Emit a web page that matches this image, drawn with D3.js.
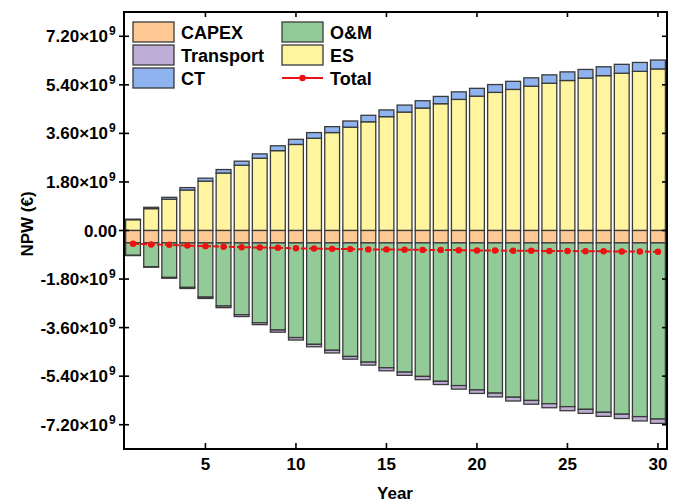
<!DOCTYPE html>
<html><head><meta charset="utf-8">
<script src="https://cdn.jsdelivr.net/npm/d3@7"></script>
<style>body{margin:0;background:#fff}svg{display:block}text{font-family:"Liberation Sans",Arial,sans-serif;font-weight:bold;fill:#000}</style>
</head><body><svg id="c" width="676" height="504"></svg>
<script>
const years = d3.range(1, 31);
const ES = [0.40,0.81,1.16,1.50,1.83,2.13,2.42,2.68,2.96,3.19,3.42,3.63,3.83,4.03,4.22,4.39,4.54,4.70,4.86,4.98,5.12,5.23,5.35,5.46,5.56,5.65,5.74,5.83,5.90,5.99];
const CT = [0.02,0.05,0.07,0.09,0.11,0.13,0.15,0.16,0.18,0.19,0.21,0.22,0.23,0.24,0.25,0.26,0.27,0.27,0.28,0.29,0.29,0.30,0.31,0.31,0.32,0.32,0.33,0.33,0.33,0.33];
const CAPEX = [-0.46,-0.46,-0.46,-0.46,-0.46,-0.46,-0.46,-0.46,-0.46,-0.46,-0.46,-0.46,-0.46,-0.46,-0.46,-0.46,-0.46,-0.46,-0.46,-0.46,-0.46,-0.46,-0.46,-0.46,-0.46,-0.46,-0.46,-0.46,-0.46,-0.46];
const OM = [-0.46,-0.88,-1.28,-1.65,-2.01,-2.34,-2.66,-2.96,-3.23,-3.51,-3.76,-3.98,-4.21,-4.42,-4.63,-4.79,-4.95,-5.13,-5.29,-5.45,-5.57,-5.72,-5.84,-5.96,-6.07,-6.17,-6.28,-6.35,-6.44,-6.53];
const Transport = [-0.01,-0.02,-0.03,-0.04,-0.05,-0.06,-0.07,-0.07,-0.08,-0.09,-0.09,-0.10,-0.10,-0.11,-0.11,-0.12,-0.12,-0.12,-0.13,-0.13,-0.14,-0.14,-0.14,-0.15,-0.15,-0.15,-0.15,-0.16,-0.16,-0.16];
const Total = [-0.49,-0.52,-0.53,-0.56,-0.58,-0.60,-0.62,-0.63,-0.64,-0.66,-0.67,-0.68,-0.69,-0.70,-0.70,-0.71,-0.72,-0.72,-0.73,-0.74,-0.74,-0.75,-0.75,-0.76,-0.76,-0.77,-0.77,-0.78,-0.78,-0.79];
const UNIT = 1e9;
const yTicks = [-7.2,-5.4,-3.6,-1.8,0,1.8,3.6,5.4,7.2];
const xTicks = [5,10,15,20,25,30];
const seriesKeys = ["ES","CT","CAPEX","O&M","Transport"];
const colors = {"CAPEX":"#FFC996","Transport":"#BEADD4","CT":"#8EB3EE","O&M":"#93CB98","ES":"#FFF59E"};

const rows = years.map((yr,i)=>({year:yr,"ES":ES[i],"CT":CT[i],"CAPEX":CAPEX[i],"O&M":OM[i],"Transport":Transport[i]}));

const svg = d3.select("#c");
const L=124,R=667,T=12,B=449;
const x = d3.scaleLinear().domain([0.5,30.5]).range([L,R]);
const y = d3.scaleLinear().domain([-8.1,8.1]).range([B,T]);
const bw = (x(1)-x(0))*0.82;

const stack = d3.stack().keys(seriesKeys).offset(d3.stackOffsetDiverging);
const layers = stack(rows);
const g = svg.append("g");
layers.forEach(layer=>{
  g.selectAll(null).data(layer).enter().append("rect")
   .attr("x",d=>x(d.data.year)-bw/2)
   .attr("width",bw)
   .attr("y",d=>y(Math.max(d[0],d[1])))
   .attr("height",d=>Math.abs(y(d[0])-y(d[1])))
   .attr("fill",colors[layer.key])
   .attr("stroke","#3a3a3a").attr("stroke-width",1.3);
});

// Total line
const line = d3.line().x((d,i)=>x(years[i])).y(d=>y(d));
svg.append("path").attr("d",line(Total)).attr("fill","none").attr("stroke","#EE1111").attr("stroke-width",2).attr("stroke-dasharray","6,2");
svg.selectAll(null).data(Total).enter().append("circle").attr("cx",(d,i)=>x(years[i])).attr("cy",d=>y(d)).attr("r",3.2).attr("fill","#EE1111");

// Frame
svg.append("rect").attr("x",L).attr("y",T).attr("width",R-L).attr("height",B-T).attr("fill","none").attr("stroke","#000").attr("stroke-width",2);

// Y axis
const fmt = v => v===0 ? "0.00" : v.toFixed(2)+"×10";
yTicks.forEach(v=>{
  const yy = y(v);
  svg.append("line").attr("x1",L-5).attr("x2",L+5).attr("y1",yy).attr("y2",yy).attr("stroke","#000").attr("stroke-width",1.6);
  svg.append("line").attr("x1",R-5).attr("x2",R).attr("y1",yy).attr("y2",yy).attr("stroke","#000").attr("stroke-width",1.6);
  const t = svg.append("text").attr("x", v===0?117:108).attr("y",yy+6).attr("text-anchor","end").attr("font-size",17).text(fmt(v));
  if(v!==0) svg.append("text").attr("x",109).attr("y",yy-1).attr("font-size",12).text("9");
});
// X axis
xTicks.forEach(v=>{
  const xx=x(v);
  svg.append("line").attr("x1",xx).attr("x2",xx).attr("y1",B).attr("y2",B-6).attr("stroke","#000").attr("stroke-width",1.6);
  svg.append("line").attr("x1",xx).attr("x2",xx).attr("y1",T).attr("y2",T+5).attr("stroke","#000").attr("stroke-width",1.6);
  svg.append("text").attr("x",xx).attr("y",470).attr("text-anchor","middle").attr("font-size",17).text(v);
});
svg.append("text").attr("x",395).attr("y",499).attr("text-anchor","middle").attr("font-size",17).text("Year");
svg.append("text").attr("transform","translate(33,224) rotate(-90)").attr("text-anchor","middle").attr("font-size",17).text("NPW (€)");

// Legend
const leg = [
  {k:"CAPEX",c:0,r:0},{k:"Transport",c:0,r:1},{k:"CT",c:0,r:2},
  {k:"O&M",c:1,r:0},{k:"ES",c:1,r:1},{k:"Total",c:1,r:2}];
leg.forEach(d=>{
  const lx = d.c===0?133:282, ly = 22 + d.r*23;
  if(d.k==="Total"){
    svg.append("line").attr("x1",lx).attr("x2",lx+41).attr("y1",ly+10).attr("y2",ly+10).attr("stroke","#EE1111").attr("stroke-width",2);
    svg.append("circle").attr("cx",lx+20.5).attr("cy",ly+10).attr("r",3.2).attr("fill","#EE1111");
  } else {
    svg.append("rect").attr("x",lx).attr("y",ly).attr("width",41).attr("height",20).attr("fill",colors[d.k]).attr("stroke","#3a3a3a").attr("stroke-width",1.3);
  }
  svg.append("text").attr("x",lx+48).attr("y",ly+17).attr("font-size",18).text(d.k);
});
</script></body></html>
